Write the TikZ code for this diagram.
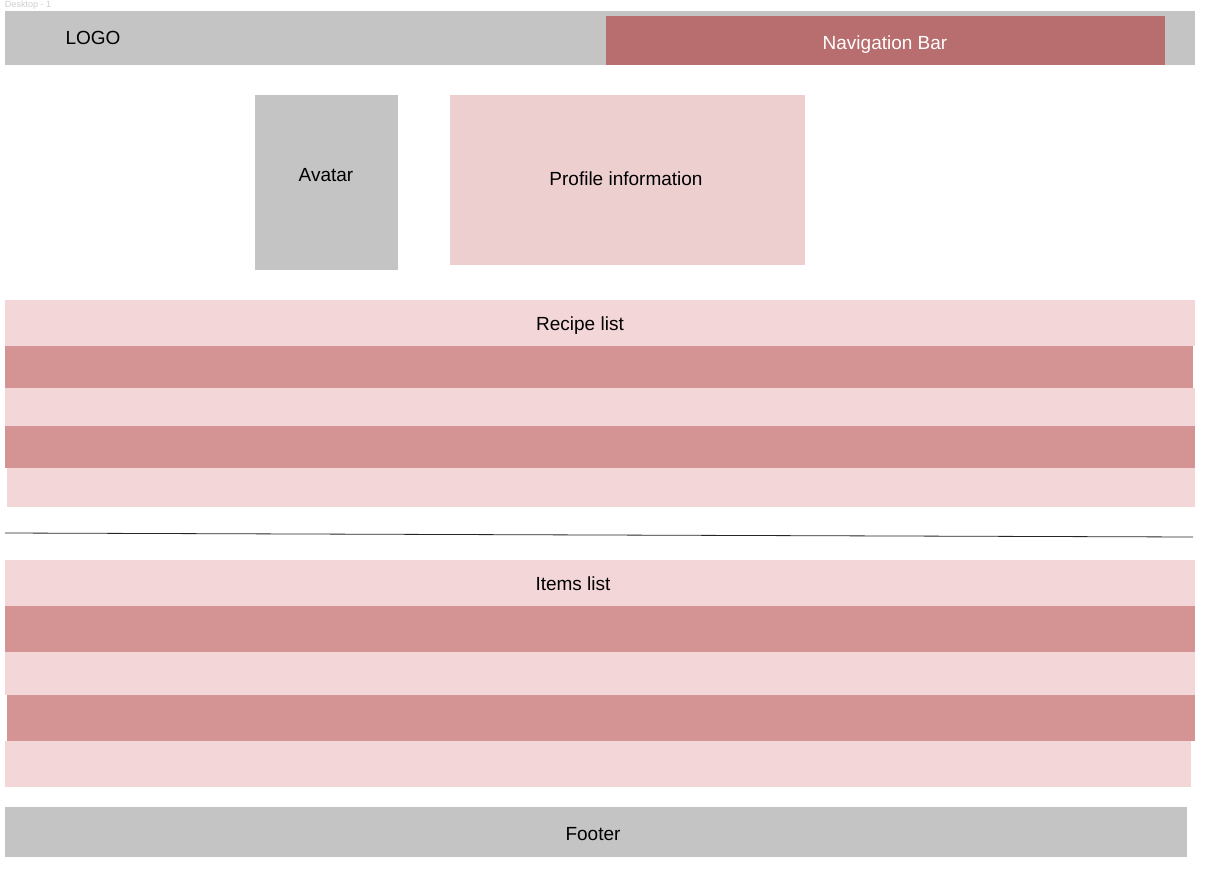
\documentclass[tikz,border=0pt]{standalone}
\usepackage{fontspec}
\setmainfont{Liberation Sans}
\usepackage{tikz}
\usetikzlibrary{positioning}

\definecolor{mockgray}{HTML}{C4C4C4}
\definecolor{navred}{HTML}{B86E6E}
\definecolor{profilepink}{HTML}{EDCFD0}
\definecolor{rowlight}{HTML}{F3D6D7}
\definecolor{rowdark}{HTML}{D49494}
\definecolor{framegray}{HTML}{CDCDCD}

\begin{document}
\begin{tikzpicture}[x=1pt, y=1pt,
    font=\fontsize{19}{23}\selectfont,
    node distance=0pt and 0pt,
    inner sep=0pt,
    outer sep=0pt]
    \tikzset{
      panel/.style={shape=rectangle, anchor=north west},
      lightrow/.style={panel, fill=rowlight, minimum height=#1},
      darkrow/.style={panel, fill=rowdark, minimum height=#1},
      caption/.style={text height=13.5pt, text depth=0pt}
    }

    \path [use as bounding box] (0,0) rectangle (1218,-875);

    \node[name=frametitle,
      anchor=north west,
      text=framegray,
      font=\fontsize{9}{10}\selectfont] at (5,-0.5) {Desktop - 1};

    % header
    \node[name=header,
      panel,
      fill=mockgray,
      minimum width=1190,
      minimum height=54] at (5,-11) {};

    \node[name=navbar,
      panel,
      fill=navred,
      minimum width=559,
      minimum height=49] at (606,-16) {};

    \node[name=logotext, caption] at (93,-38) {LOGO};
    \node[name=navtext, caption, text=white] at (885,-43) {Navigation Bar};

    % profile
    \node[name=avatar,
      panel,
      fill=mockgray,
      minimum width=143,
      minimum height=175] at (255,-95) {};

    \node[name=profile,
      panel,
      fill=profilepink,
      minimum width=355,
      minimum height=170] at (450,-95) {};

    \node[name=avatartext, caption] at (326,-175) {Avatar};
    \node[name=profiletext, caption] at (626,-179) {Profile information};

    % recipe list
    \node[name=recipehead, lightrow=46, minimum width=1190] at (5,-300) {};
    \node[name=recipe1, darkrow=42, minimum width=1188, below=of recipehead.south west, anchor=north west] {};
    \node[name=recipe2, lightrow=38, minimum width=1190, below=of recipe1.south west, anchor=north west] {};
    \node[name=recipe3, darkrow=42, minimum width=1190, below=of recipe2.south west, anchor=north west] {};
    \node[name=recipe4, lightrow=39, minimum width=1188, anchor=north west] at ([xshift=2pt]recipe3.south west) {};

    \node[name=recipetext, caption] at (580,-324) {Recipe list};

    % separator
    \coordinate (sepleft) at (5,-533);
    \coordinate (sepright) at (1193,-537);
    \draw[line width=0.8pt, black!85] (sepleft) -- (sepright);

    % items list
    \node[name=itemshead, lightrow=46, minimum width=1190] at (5,-560) {};
    \node[name=item1, darkrow=46, minimum width=1190, below=of itemshead.south west, anchor=north west] {};
    \node[name=item2, lightrow=43, minimum width=1190, below=of item1.south west, anchor=north west] {};
    \node[name=item3, darkrow=46, minimum width=1188, anchor=north west] at ([xshift=2pt]item2.south west) {};
    \node[name=item4, lightrow=46, minimum width=1186, anchor=north west] at ([xshift=-2pt]item3.south west) {};

    \node[name=itemstext, caption] at (573,-584) {Items list};

    % footer
    \node[name=footer,
      panel,
      fill=mockgray,
      minimum width=1182,
      minimum height=50] at (5,-807) {};

    \node[name=footertext, caption] at (593,-834) {Footer};

  \end{tikzpicture}
\end{document}
